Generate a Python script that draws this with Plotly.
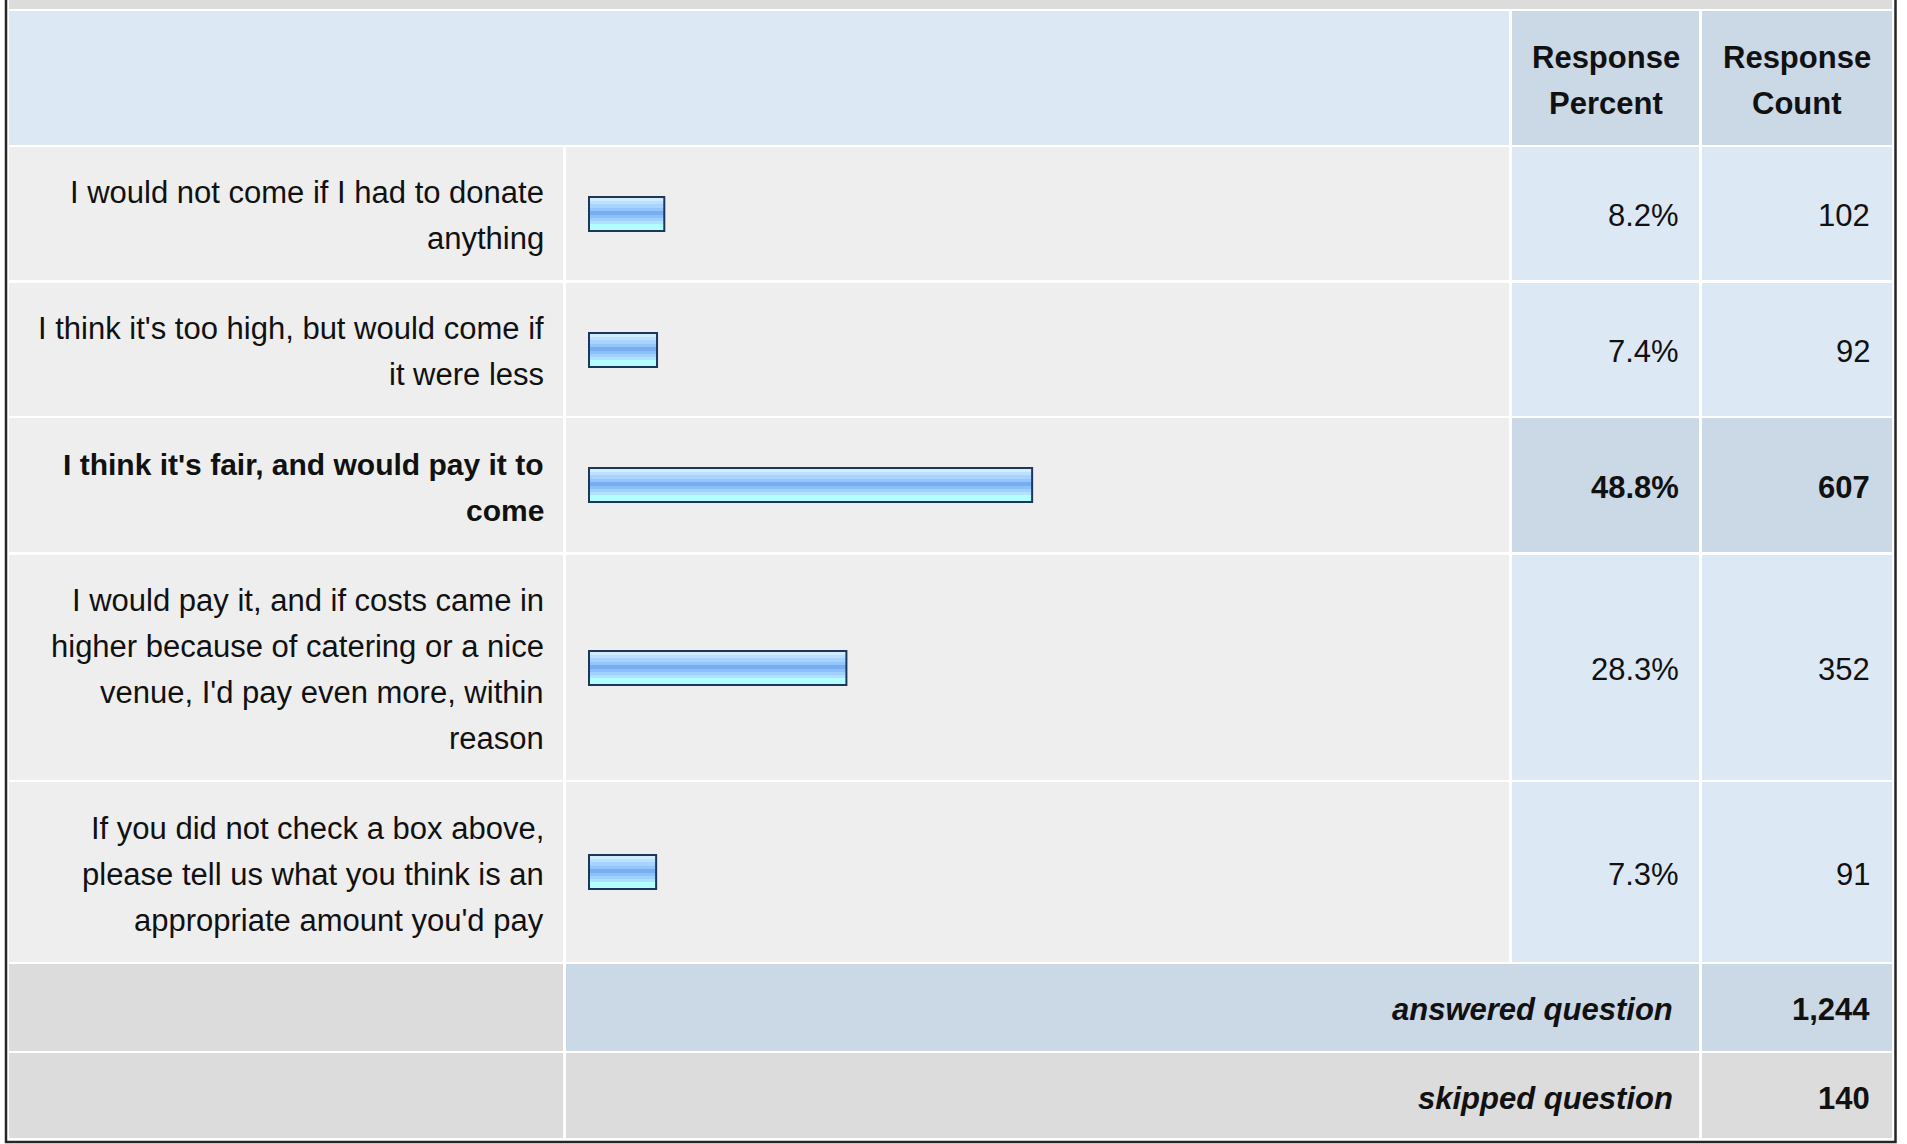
import plotly.graph_objects as go

# ---------------- data ----------------
answer_choices = [
    "I would not come if I had to donate<br>anything",
    "I think it's too high, but would come if<br>it were less",
    "I think it's fair, and would pay it to<br>come",
    "I would pay it, and if costs came in<br>higher because of catering or a nice<br>venue, I'd pay even more, within<br>reason",
    "If you did not check a box above,<br>please tell us what you think is an<br>appropriate amount you'd pay",
]
response_percent = [8.2, 7.4, 48.8, 28.3, 7.3]
response_count = [102, 92, 607, 352, 91]
header_labels = ["Response<br>Percent", "Response<br>Count"]
summary_labels = ["answered question", "skipped question"]
summary_counts = [1244, 140]

# ---------------- layout constants (pixels) ----------------
W, H = 1907, 1144
FONT = "Liberation Sans, Arial, Helvetica, sans-serif"
FS = 31
FS_BOLD_LABEL = 30
LINE = 46
TXT = "#111111"
YOFF = 2  # text vertical nudge

header_rows = (11, 145)
row_bounds = [(147, 280), (283, 416), (418, 552), (555, 780), (782, 962)]
summary_bounds = [(964, 1051), (1053, 1138)]
col_label = (9, 563)
col_bar = (566, 1509)
col_pct = (1512, 1699)
col_cnt = (1702, 1892)

LABEL_RIGHT = 546
PCT_RIGHT = 1681
CNT_RIGHT = 1872
SUM_RIGHT = 1675

BAR_X0 = 591.0          # pixel position of 0 %
PX_PER_PCT = 9.06
BAR_PAD_PX = 3          # bar image starts a few px left of 0
BAR_H = 36
BORDER = 2
AXIS_LO = -1.0          # axis starts slightly below 0 so the bar edge is not clipped

C_TOP = "#dcdcdc"
C_HEAD = "#dde8f5"
C_HEAD_DARK = "#cbd8e6"
C_CELL = "#eeeeee"
C_BLUE = "#dde8f5"
C_BLUE_DARK = "#cbd8e6"
C_GRAY = "#dcdcdc"

highlight = response_percent.index(max(response_percent))

fig = go.Figure()
shapes = []
annotations = []


def rect(x0, x1, y0, y1, color):
    shapes.append(dict(type="rect", xref="x", yref="y", x0=x0, x1=x1, y0=y0, y1=y1,
                       fillcolor=color, line=dict(width=0), layer="below"))


def text(x, y, s, anchor="right", bold=False, italic=False, size=FS):
    if bold:
        s = "<b>" + s + "</b>"
    if italic:
        s = "<i>" + s + "</i>"
    annotations.append(dict(x=x, y=y + YOFF, xref="x", yref="y", text=s, showarrow=False,
                            xanchor=anchor, yanchor="middle",
                            font=dict(family=FONT, size=size, color=TXT)))


def multiline(x, yc, s, anchor="right", bold=False, size=FS):
    lines = s.split("<br>")
    n = len(lines)
    for i, ln in enumerate(lines):
        text(x, yc + (i - (n - 1) / 2) * LINE, ln, anchor=anchor, bold=bold, size=size)


# top strip
rect(col_label[0], col_cnt[1], -5, 9, C_TOP)
# header
rect(col_label[0], col_bar[1], header_rows[0], header_rows[1], C_HEAD)
rect(col_pct[0], col_pct[1], header_rows[0], header_rows[1], C_HEAD_DARK)
rect(col_cnt[0], col_cnt[1], header_rows[0], header_rows[1], C_HEAD_DARK)
hc = (header_rows[0] + header_rows[1]) / 2
multiline((col_pct[0] + col_pct[1]) / 2, hc, header_labels[0], anchor="center", bold=True)
multiline((col_cnt[0] + col_cnt[1]) / 2, hc, header_labels[1], anchor="center", bold=True)

row_centers = []
for i, (y0, y1) in enumerate(row_bounds):
    yc = (y0 + y1) / 2
    row_centers.append(round(yc))
    bold = i == highlight
    rect(col_label[0], col_label[1], y0, y1, C_CELL)
    rect(col_bar[0], col_bar[1], y0, y1, C_CELL)
    rect(col_pct[0], col_pct[1], y0, y1, C_BLUE_DARK if bold else C_BLUE)
    rect(col_cnt[0], col_cnt[1], y0, y1, C_BLUE_DARK if bold else C_BLUE)
    multiline(LABEL_RIGHT, yc, answer_choices[i], bold=bold,
              size=FS_BOLD_LABEL if bold else FS)
    text(PCT_RIGHT, yc, f"{response_percent[i]}%", bold=bold)
    text(CNT_RIGHT, yc, f"{response_count[i]:,}", bold=bold)

# summary rows
summary_mid_colors = [C_BLUE_DARK, C_GRAY]
for j, (y0, y1) in enumerate(summary_bounds):
    yc = (y0 + y1) / 2
    rect(col_label[0], col_label[1], y0, y1, C_GRAY)
    rect(col_bar[0], col_pct[1], y0, y1, summary_mid_colors[j])
    rect(col_cnt[0], col_cnt[1], y0, y1, summary_mid_colors[j])
    text(SUM_RIGHT, yc + (1 if j == 1 else 0), summary_labels[j], bold=True, italic=True)
    text(CNT_RIGHT, yc + (1 if j == 1 else 0), f"{summary_counts[j]:,}", bold=True)

# outer frame
shapes.append(dict(type="rect", xref="x", yref="y", x0=6, x1=1895.5, y0=-10, y1=1142,
                   line=dict(color="#262626", width=2.5), fillcolor="rgba(0,0,0,0)", layer="above"))

# ---------------- bars (gradient made of stacked stripes) ----------------
pad = BAR_PAD_PX / PX_PER_PCT
inset = BORDER / PX_PER_PCT
fig.add_trace(go.Bar(
    x=[v + pad for v in response_percent], y=row_centers, base=-pad, orientation="h",
    width=BAR_H, offset=-BAR_H / 2, xaxis="x2", yaxis="y",
    marker=dict(color="#1d375a", line=dict(width=0)), hoverinfo="skip", showlegend=False))

stripes = [  # (start px from bar top, height px, colour)
    (2, 3, "#d2ecff"),
    (5, 3, "#bde0ff"),
    (8, 4, "#a6d3ff"),
    (12, 3, "#94c6fb"),
    (15, 4, "#78aef1"),
    (19, 3, "#8bc1f9"),
    (22, 3, "#9ed1ff"),
    (25, 3, "#b0e2ff"),
    (28, 6, "#b3ffff"),
]
for (t, h, c) in stripes:
    fig.add_trace(go.Bar(
        x=[v + pad - 2 * inset for v in response_percent], y=row_centers,
        base=-pad + inset, orientation="h",
        width=h, offset=-BAR_H / 2 + t, xaxis="x2", yaxis="y",
        marker=dict(color=c, line=dict(width=0)), hoverinfo="skip", showlegend=False))

fig.update_layout(
    width=W, height=H, margin=dict(l=0, r=0, t=0, b=0),
    paper_bgcolor="white", plot_bgcolor="rgba(0,0,0,0)",
    barmode="overlay", showlegend=False,
    xaxis=dict(domain=[0, 1], range=[0, W], visible=False, fixedrange=True, anchor="y"),
    xaxis2=dict(domain=[(BAR_X0 + AXIS_LO * PX_PER_PCT) / W, (BAR_X0 + 100 * PX_PER_PCT) / W],
                range=[AXIS_LO, 100], visible=False, fixedrange=True, anchor="y"),
    yaxis=dict(domain=[0, 1], range=[H, 0], visible=False, fixedrange=True),
    shapes=shapes, annotations=annotations,
    font=dict(family=FONT),
)

fig.write_html("out.html", config={"displayModeBar": False, "staticPlot": True},
               post_script="document.body.style.margin='0';document.body.style.overflow='hidden';")
